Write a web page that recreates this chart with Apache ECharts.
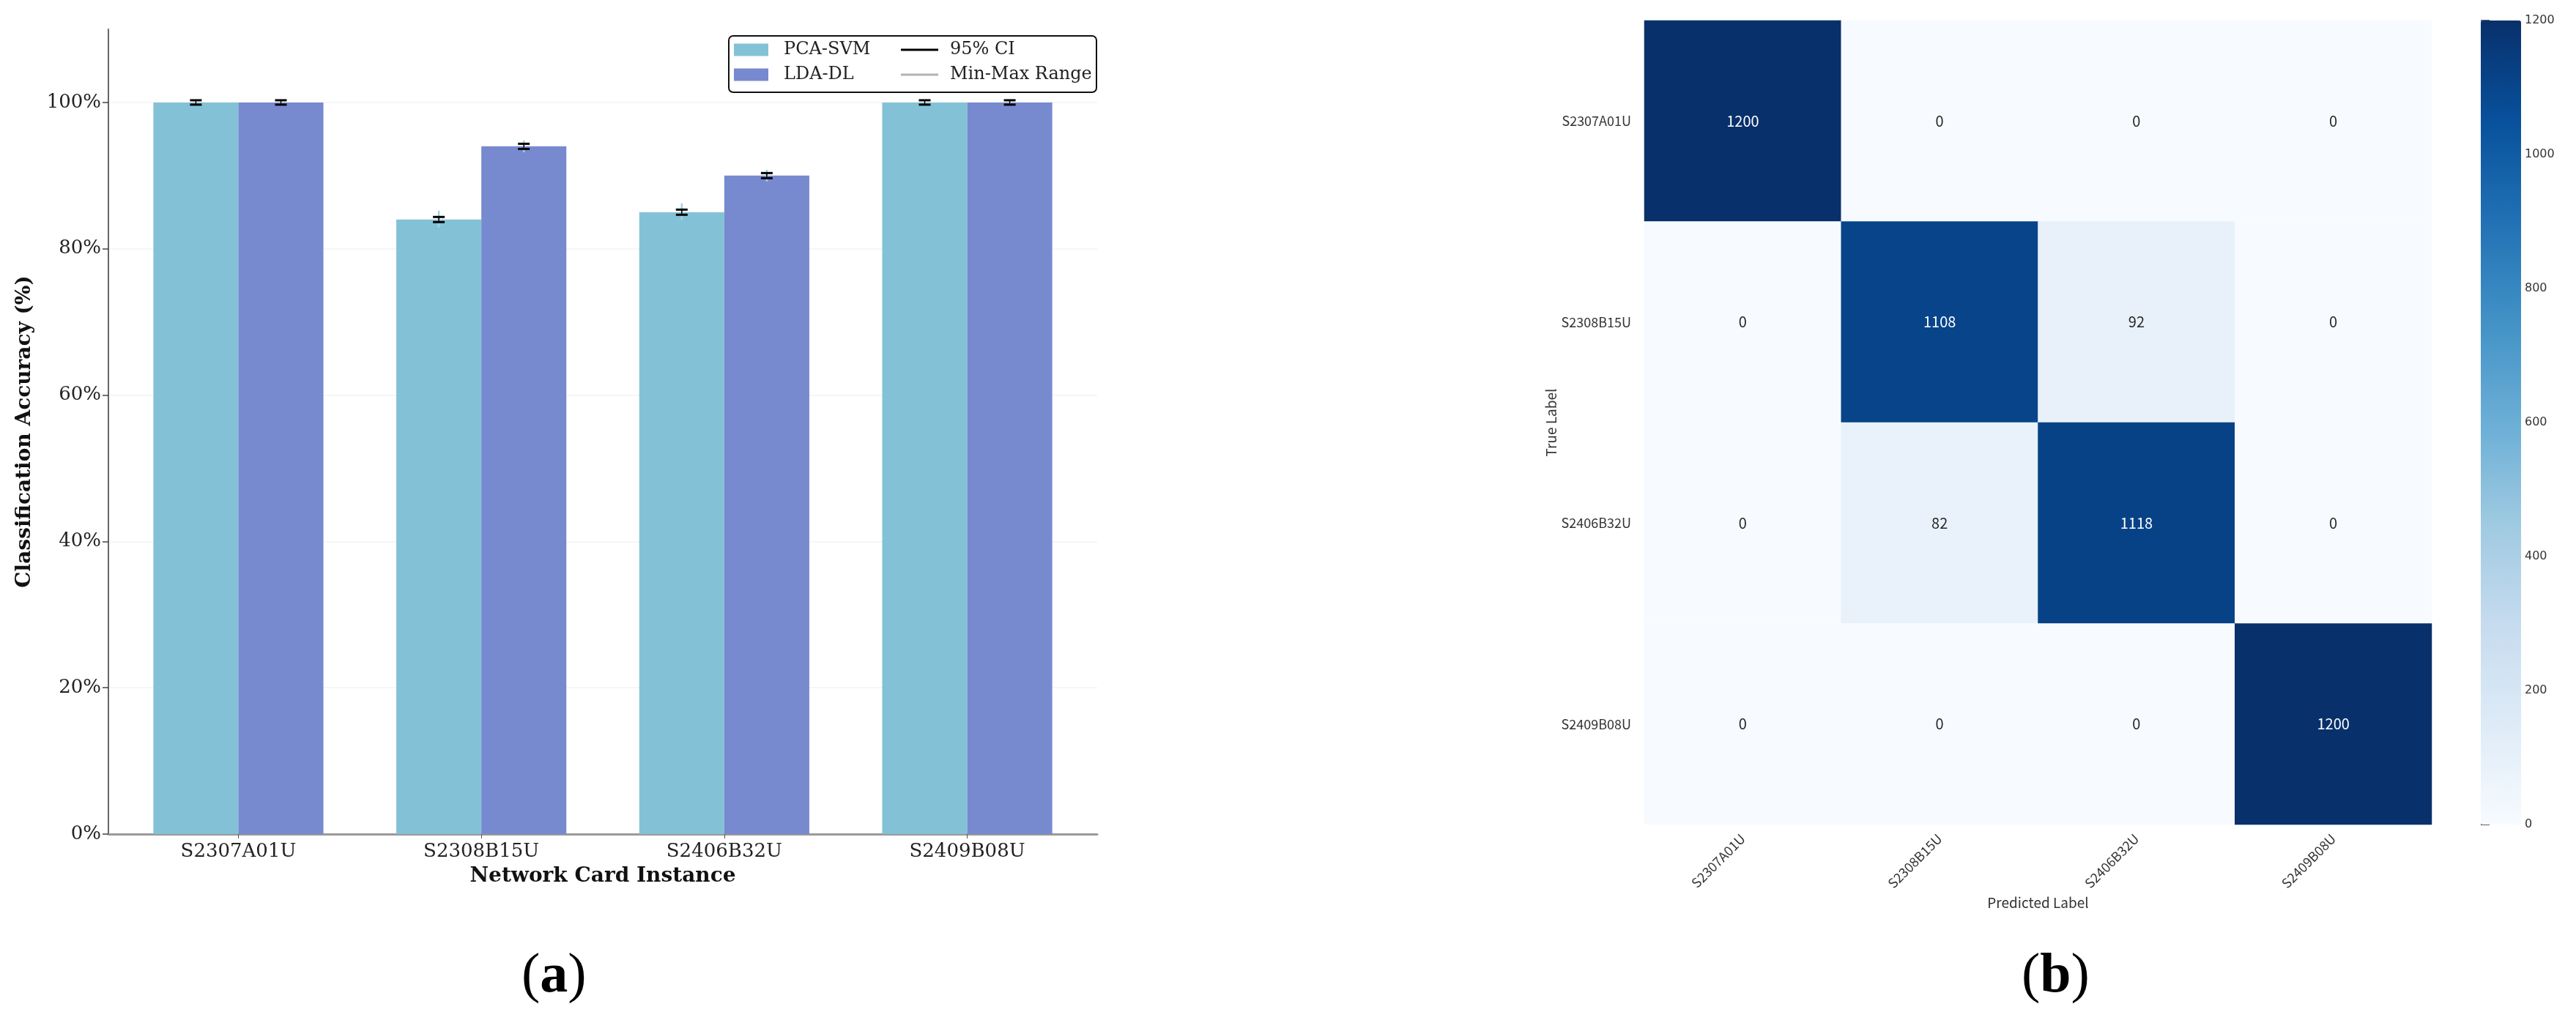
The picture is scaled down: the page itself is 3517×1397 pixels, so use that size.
<!DOCTYPE html>
<html>
<head>
<meta charset="utf-8">
<script src="https://cdn.jsdelivr.net/npm/echarts@6/dist/echarts.min.js"></script>
<style>
    html, body {margin: 0; padding: 0; background: #fff;}
    #main {width: 3517px; height: 1397px;}
</style>
</head>
<body>
<div id="main"></div>
<script>
// (a) accuracy per network card
const cards = ['S2307A01U', 'S2308B15U', 'S2406B32U', 'S2409B08U']
const pcaSvm = [100, 84, 85, 100]
const ldaDl = [100, 94, 90, 100]
const pcaCiLow = [99.7, 83.65, 84.65, 99.7]
const pcaCiHigh = [100.3, 84.35, 85.35, 100.3]
const ldaCiLow = [99.7, 93.65, 89.65, 99.7]
const ldaCiHigh = [100.3, 94.35, 90.35, 100.3]
const pcaMin = [99.8, 82.9, 83.9, 99.8]
const pcaMax = [100, 85.2, 86.2, 100]
const ldaMin = [99.8, 93.2, 89.2, 99.8]
const ldaMax = [100, 94.8, 90.8, 100]
const accTicks = [0, 20, 40, 60, 80, 100]

// (b) confusion matrix
const trueLabels = ['S2307A01U', 'S2308B15U', 'S2406B32U', 'S2409B08U']
const predLabels = ['S2307A01U', 'S2308B15U', 'S2406B32U', 'S2409B08U']
const rowS2307 = [1200, 0, 0, 0]
const rowS2308 = [0, 1108, 92, 0]
const rowS2406 = [0, 82, 1118, 0]
const rowS2409 = [0, 0, 0, 1200]
const blues = ['#f7fbff', '#deebf7', '#c6dbef', '#9ecae1', '#6baed6', '#4292c6', '#2171b5', '#08519c', '#08306b']

const barW = 0.35
const serif = 'DejaVu Serif'
const cjk = 'Noto Sans CJK SC'

const chart = echarts.init(document.getElementById('main'))

function barItem(offset) {
    return function (params, api) {
        const x = api.value(0) + offset
        const p0 = api.coord([x - barW / 2, api.value(1)])
        const p1 = api.coord([x + barW / 2, 0])
        return {
            type: 'rect',
            shape: {x: p0[0], y: p0[1], width: p1[0] - p0[0], height: p1[1] - p0[1]},
            style: {fill: api.visual('color')}
        }
    }
}

function ciItem(params, api) {
    const x = api.value(0)
    const lo = api.coord([x, api.value(1)])
    const hi = api.coord([x, api.value(2)])
    const cap = 8
    return {
        type: 'group',
        children: [
            {type: 'line', shape: {x1: lo[0], y1: lo[1], x2: hi[0], y2: hi[1]}, style: {stroke: '#000', lineWidth: 1.5}},
            {type: 'line', shape: {x1: lo[0] - cap, y1: lo[1], x2: lo[0] + cap, y2: lo[1]}, style: {stroke: '#000', lineWidth: 3}},
            {type: 'line', shape: {x1: hi[0] - cap, y1: hi[1], x2: hi[0] + cap, y2: hi[1]}, style: {stroke: '#000', lineWidth: 3}}
        ]
    }
}

function rangeItem(params, api) {
    const x = api.value(0)
    const lo = api.coord([x, api.value(1)])
    const hi = api.coord([x, api.value(2)])
    return {
        type: 'line',
        shape: {x1: lo[0], y1: lo[1], x2: hi[0], y2: hi[1]},
        style: {stroke: '#9fd0e3', lineWidth: 2.5}
    }
}

const ciData = []
const rangeData = []
cards.forEach((c, i) => {
    ciData.push([i - barW / 2, pcaCiLow[i], pcaCiHigh[i]])
    ciData.push([i + barW / 2, ldaCiLow[i], ldaCiHigh[i]])
    rangeData.push([i - barW / 2, pcaMin[i], pcaMax[i]])
    rangeData.push([i + barW / 2, ldaMin[i], ldaMax[i]])
})

const rows = [rowS2307, rowS2308, rowS2406, rowS2409]
const heatData = []
rows.forEach((row, yi) => {
    row.forEach((v, xi) => {
        heatData.push({value: [xi, yi, v], label: {color: v > 600 ? '#ffffff' : '#262626'}})
    })
})

const option = {
    animation: false,
    backgroundColor: '#ffffff',
    textStyle: {fontFamily: serif},
    grid: [
        {left: 148, top: 40, width: 1350, height: 1099},
        {left: 2245, top: 28, width: 1075, height: 1098},
        {left: 3387, top: 28, width: 55, height: 1098}
    ],
    xAxis: [
        {
            type: 'value', gridIndex: 0, min: -0.535, max: 3.535,
            name: 'Network Card Instance', nameLocation: 'middle', nameGap: 44,
            nameTextStyle: {fontFamily: serif, fontWeight: 'bold', fontSize: 28, color: '#111'},
            axisLine: {onZero: false, lineStyle: {color: '#9a9a9a', width: 3}},
            axisTick: {customValues: [0, 1, 2, 3], length: 6, lineStyle: {color: '#555'}},
            axisLabel: {
                customValues: [0, 1, 2, 3], margin: 11,
                formatter: v => cards[Math.round(v)],
                fontFamily: serif, fontSize: 26, color: '#222'
            },
            splitLine: {show: false}
        },
        {
            type: 'category', gridIndex: 1, data: predLabels,
            name: 'Predicted Label', nameLocation: 'middle', nameGap: 97,
            nameTextStyle: {fontFamily: cjk, fontSize: 19, color: '#333'},
            axisLine: {show: false}, axisTick: {show: false},
            axisLabel: {rotate: 45, margin: 16, fontFamily: cjk, fontSize: 18, color: '#333'},
            splitArea: {show: false}, splitLine: {show: false}
        },
        {type: 'value', gridIndex: 2, show: false, min: 0, max: 1}
    ],
    yAxis: [
        {
            type: 'value', gridIndex: 0, min: 0, max: 110,
            name: 'Classification Accuracy (%)', nameLocation: 'middle', nameGap: 100,
            nameTextStyle: {fontFamily: serif, fontWeight: 'bold', fontSize: 28, color: '#111'},
            axisLine: {show: true, onZero: false, lineStyle: {color: '#666', width: 2}},
            axisTick: {show: true, customValues: accTicks, length: 8, lineStyle: {color: '#444', width: 1.5}},
            axisLabel: {customValues: accTicks, formatter: v => v + '%', fontFamily: serif, fontSize: 26, color: '#222', margin: 10},
            splitLine: {show: true, lineStyle: {color: '#f3f3f3', width: 1.5}}
        },
        {
            type: 'category', gridIndex: 1, data: trueLabels, inverse: true,
            name: 'True Label', nameLocation: 'middle', nameGap: 111,
            nameTextStyle: {fontFamily: cjk, fontSize: 19, color: '#333'},
            axisLine: {show: false}, axisTick: {show: false},
            axisLabel: {margin: 18, fontFamily: cjk, fontSize: 18, color: '#333'},
            splitArea: {show: false}, splitLine: {show: false}
        },
        {
            type: 'value', gridIndex: 2, position: 'right', min: 0, max: 1200, interval: 200,
            axisLine: {show: false},
            axisTick: {show: true, length: 12, lineStyle: {color: '#333', width: 1.5}},
            axisLabel: {margin: 5, formatter: v => String(v), fontFamily: 'DejaVu Sans', fontSize: 16, color: '#333'},
            splitLine: {show: false}
        }
    ],
    legend: [
        {
            left: 1002, top: 56, orient: 'vertical', padding: 0, itemGap: 10,
            itemWidth: 47, itemHeight: 17, icon: 'rect',
            data: ['PCA-SVM', 'LDA-DL'],
            textStyle: {fontFamily: serif, fontSize: 24, color: '#222', lineHeight: 24, padding: [0, 0, 0, 16]}
        },
        {
            left: 1230, top: 56, orient: 'vertical', padding: 0, itemGap: 10,
            itemWidth: 51, itemHeight: 3, icon: 'rect',
            data: [{name: '95% CI'}, {name: 'Min-Max Range', itemStyle: {color: '#b3b3b3'}}],
            textStyle: {fontFamily: serif, fontSize: 24, color: '#222', lineHeight: 24, padding: [0, 0, 0, 11]}
        }
    ],
    visualMap: {
        type: 'continuous', seriesIndex: 4, min: 0, max: 1200,
        calculable: false, text: null, showLabel: false,
        left: 3387, top: 28, padding: 0, itemWidth: 55, itemHeight: 1098,
        inRange: {color: blues}
    },
    graphic: [
        {
            type: 'rect', left: 994, top: 48, z: 1,
            shape: {width: 502, height: 77, r: 6},
            style: {fill: 'rgba(255,255,255,0.9)', stroke: '#111', lineWidth: 2}
        },
        {
            type: 'text', top: 1296, left: 712,
            style: {
                text: '{p|(}{b|a}{p|)}',
                rich: {
                    p: {fontFamily: 'Liberation Serif', fontSize: 76, fontWeight: 'normal', color: '#000'},
                    b: {fontFamily: 'Liberation Serif', fontSize: 76, fontWeight: 'bold', color: '#000'}
                }
            }
        },
        {
            type: 'text', top: 1296, left: 2760,
            style: {
                text: '{p|(}{b|b}{p|)}',
                rich: {
                    p: {fontFamily: 'Liberation Serif', fontSize: 76, fontWeight: 'normal', color: '#000'},
                    b: {fontFamily: 'Liberation Serif', fontSize: 76, fontWeight: 'bold', color: '#000'}
                }
            }
        }
    ],
    series: [
        {
            name: 'PCA-SVM', type: 'custom', xAxisIndex: 0, yAxisIndex: 0,
            itemStyle: {color: '#83c2d6'},
            encode: {x: 0, y: 1},
            data: pcaSvm.map((v, i) => [i, v]),
            renderItem: barItem(-barW / 2)
        },
        {
            name: 'LDA-DL', type: 'custom', xAxisIndex: 0, yAxisIndex: 0,
            itemStyle: {color: '#7789cf'},
            encode: {x: 0, y: 1},
            data: ldaDl.map((v, i) => [i, v]),
            renderItem: barItem(barW / 2)
        },
        {
            name: 'Min-Max Range', type: 'custom', xAxisIndex: 0, yAxisIndex: 0, z: 3,
            itemStyle: {color: '#b3b3b3'},
            encode: {x: 0, y: [1, 2]},
            data: rangeData,
            renderItem: rangeItem
        },
        {
            name: '95% CI', type: 'custom', xAxisIndex: 0, yAxisIndex: 0, z: 4,
            itemStyle: {color: '#000000'},
            encode: {x: 0, y: [1, 2]},
            data: ciData,
            renderItem: ciItem
        },
        {
            name: 'Confusion', type: 'heatmap', xAxisIndex: 1, yAxisIndex: 1,
            data: heatData,
            label: {show: true, formatter: p => p.value[2], fontFamily: cjk, fontSize: 20},
            emphasis: {disabled: true}
        }
    ]
}

chart.setOption(option)
</script>
</body>
</html>
